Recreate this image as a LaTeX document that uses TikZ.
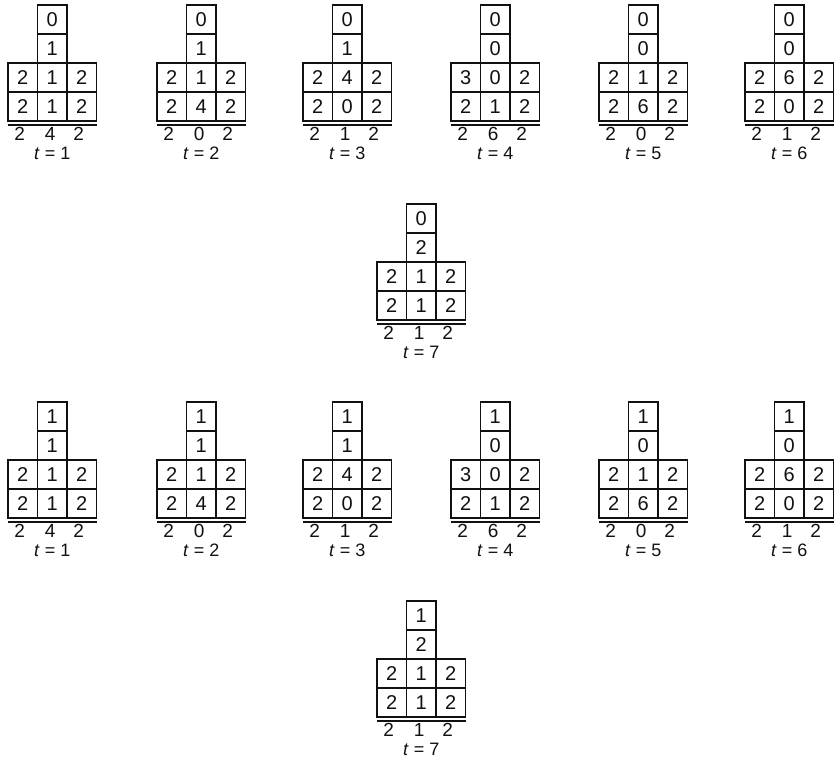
\documentclass[tikz,border=0pt]{standalone}
\usepackage{fontspec}
\setmainfont{Liberation Sans}
\usetikzlibrary{positioning,calc}
\definecolor{ink}{HTML}{111111}
\tikzset{
  cell/.style={
    draw=ink,
    line width=1.4pt,
    minimum width=29.5pt,
    minimum height=29pt,
    inner sep=0pt,
    outer sep=0pt,
    text=ink,
    font=\fontsize{20}{24}\selectfont
  },
  digit/.style={
    inner sep=0pt,
    text=ink,
    font=\fontsize{19}{23}\selectfont
  },
  sumline/.style={
    draw=ink,
    line width=1.4pt
  },
  timelabel/.style={
    inner sep=0pt,
    text=ink,
    font=\fontsize{18}{22}\selectfont
  }
}

\begin{document}
\begin{tikzpicture}[x=1pt,y=1pt]
\useasboundingbox (0,0) rectangle (840,-771);

% ---------------------------------------------------------------------------
% Blocks: name / left / top / column (upper, lower) / rows / sums / time
% ---------------------------------------------------------------------------
\foreach \name/\bx/\by/\ta/\tb/\ra/\rb/\rc/\sa/\sb/\sc/\ua/\ub/\uc/\tm in {
    a1/8/5/0/1/2/1/2/2/1/2/2/4/2/1,
    a2/157/5/0/1/2/1/2/2/4/2/2/0/2/2,
    a3/303/5/0/1/2/4/2/2/0/2/2/1/2/3,
    a4/451/5/0/0/3/0/2/2/1/2/2/6/2/4,
    a5/599/5/0/0/2/1/2/2/6/2/2/0/2/5,
    a6/745/5/0/0/2/6/2/2/0/2/2/1/2/6,
    a7/377/204/0/2/2/1/2/2/1/2/2/1/2/7,
    b1/8/402/1/1/2/1/2/2/1/2/2/4/2/1,
    b2/157/402/1/1/2/1/2/2/4/2/2/0/2/2,
    b3/303/402/1/1/2/4/2/2/0/2/2/1/2/3,
    b4/451/402/1/0/3/0/2/2/1/2/2/6/2/4,
    b5/599/402/1/0/2/1/2/2/6/2/2/0/2/5,
    b6/745/402/1/0/2/6/2/2/0/2/2/1/2/6,
    b7/377/601/1/2/2/1/2/2/1/2/2/1/2/7}
{
  % upper column
  \node[cell] (\name-c1) at ({\bx+44.25},{-\by-14.5}) {\ta};
  \node[cell, below=0pt of \name-c1] (\name-c2) {\tb};
  % two full rows
  \node[cell, below=0pt of \name-c2] (\name-mb) {\rb};
  \node[cell, left=0pt of \name-mb] (\name-ma) {\ra};
  \node[cell, right=0pt of \name-mb] (\name-mc) {\rc};
  \node[cell, below=0pt of \name-mb] (\name-lb) {\sb};
  \node[cell, left=0pt of \name-lb] (\name-la) {\sa};
  \node[cell, right=0pt of \name-lb] (\name-lc) {\sc};
  % sum line, sums and time
  \draw[sumline] ([yshift=-4pt]\name-la.south west) -- ([yshift=-4pt]\name-lc.south east);
  \node[digit, below=6pt of \name-la, xshift=-3pt] (\name-ua) {\ua};
  \node[digit, below=6pt of \name-lb, xshift=-2pt] (\name-ub) {\ub};
  \node[digit, below=6pt of \name-lc, xshift=-3pt] (\name-uc) {\uc};
  \node[timelabel, below=26pt of \name-lb] (\name-t) {\textit{t}\;=\;\tm};
}

\end{tikzpicture}
\end{document}
